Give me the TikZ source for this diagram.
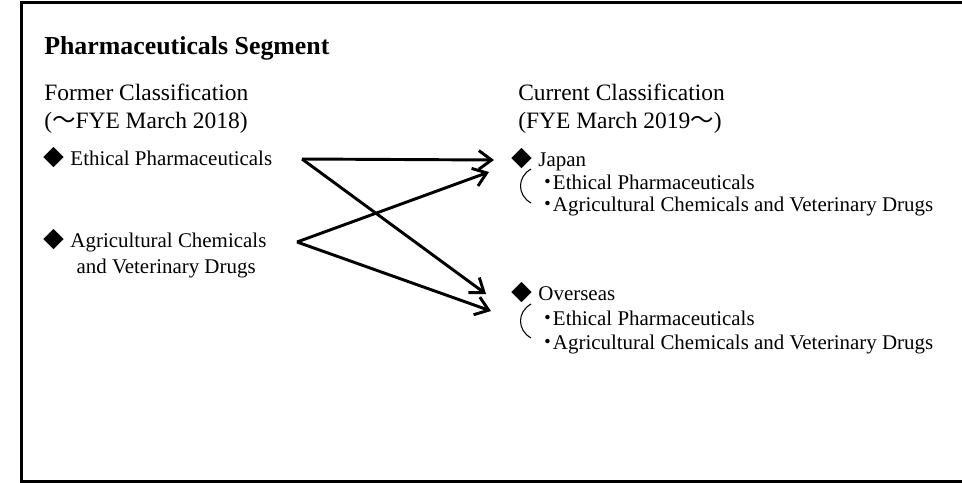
\documentclass[tikz,border=0pt]{standalone}
\usepackage{fontspec}
\usepackage{tikz}
\usetikzlibrary{arrows.meta}
\setmainfont{Liberation Serif}
\newfontfamily\cjk{Noto Sans CJK JP}

\newcommand{\dia}{{\cjk ◆}\hspace{0.3em}}
\newcommand{\wav}{{\cjk ～}}
\newcommand{\mdot}{{\cjk ・}\hspace{-0.25em}}

\tikzset{
  every node/.style={inner sep=0pt, anchor=base west},
  headtext/.style={font=\fontsize{17.6}{21}\selectfont, align=left},
  itemtext/.style={font=\fontsize{15.7}{19.5}\selectfont, align=left},
  conn/.style={line width=2.2pt, -{Straight Barb[length=9.5pt,width=14pt,line width=2.2pt]}},
  brace/.style={line width=0.8pt}
}

\begin{document}
\begin{tikzpicture}[x=0.75pt, y=-0.75pt]
    \useasboundingbox (0,0) rectangle (962,482);
    \begin{scope}
      \clip (0,0) rectangle (962,482);
      \draw[line width=2.6pt] (21.5,2.5) rectangle (990,481.5);
    \end{scope}

    \node[font=\fontsize{19.4}{23}\selectfont\bfseries] (title) at (44,54) {Pharmaceuticals Segment};
    \node[headtext] (former) at (44,128) {Former Classification\\(\wav FYE March 2018)};
    \node[headtext] (current) at (518,128) {Current Classification\\(FYE March 2019\wav)};

    \node[itemtext] (eth) at (43,165) {\dia Ethical Pharmaceuticals};
    \node[itemtext] (agr) at (43,273) {\dia Agricultural Chemicals\\\hspace*{25pt}and Veterinary Drugs};

    \node[itemtext] (japan) at (511,166) {\dia Japan};
    \node[itemtext] (jeth) at (537,189) {\mdot Ethical Pharmaceuticals};
    \node[itemtext] (jagr) at (537,211) {\mdot Agricultural Chemicals and Veterinary Drugs};
    \node[itemtext] (ovs) at (511,300) {\dia Overseas};
    \node[itemtext] (oeth) at (537,325) {\mdot Ethical Pharmaceuticals};
    \node[itemtext] (oagr) at (537,349) {\mdot Agricultural Chemicals and Veterinary Drugs};

    \coordinate (ethout) at (302,159);
    \coordinate (agrout) at (297,242);
    \coordinate (japin) at (494,160);
    \coordinate (japin2) at (489,172);
    \coordinate (ovsin) at (486,294);
    \coordinate (ovsin2) at (491,311);

    \draw[conn] (ethout) -- (japin);
    \draw[conn] (ethout) -- (ovsin);
    \draw[conn] (agrout) -- (japin2);
    \draw[conn] (agrout) -- (ovsin2);

    % parentheses
    \draw[brace] (531,169) .. controls (517,177) and (517,195) .. (531,203);
    \draw[brace] (531,304) .. controls (517,312) and (517,330) .. (531,338);
\end{tikzpicture}
\end{document}
